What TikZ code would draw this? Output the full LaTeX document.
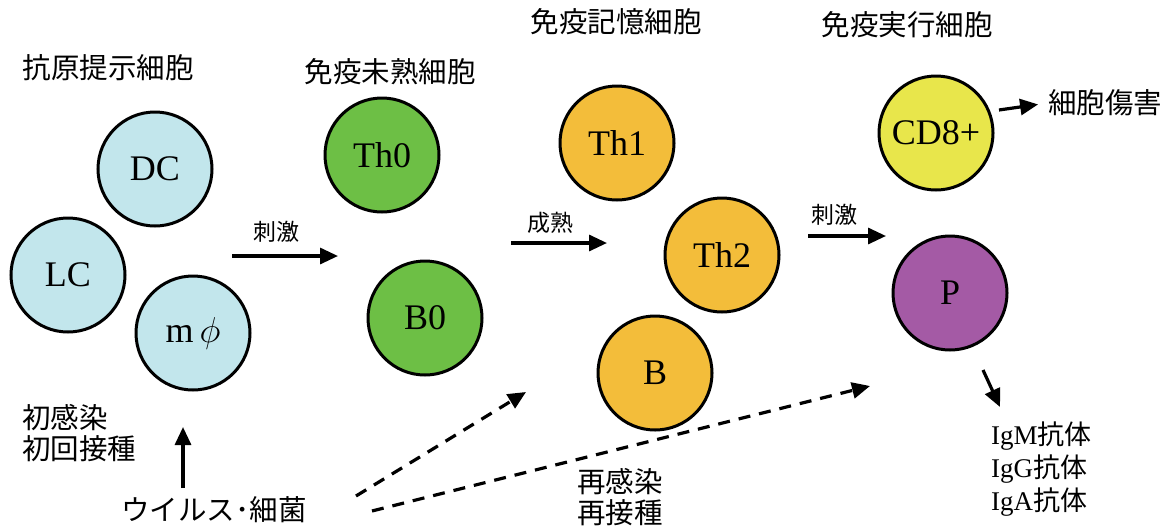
\RequirePackage{fix-cm}
\documentclass[tikz,border=0pt]{standalone}
\usepackage{fontspec}
\setmainfont{Liberation Serif}
\newfontfamily\jp{Noto Sans CJK JP}
\usetikzlibrary{arrows.meta}
\definecolor{cblue}{HTML}{C2E6EC}
\definecolor{cgreen}{HTML}{6DBF45}
\definecolor{corange}{HTML}{F3BD3A}
\definecolor{cyellow}{HTML}{E8E64B}
\definecolor{cpurple}{HTML}{A45AA5}
\tikzset{
  cell/.style={circle, draw=black, line width=3pt, minimum size=114pt, inner sep=0pt,
    font=\fontsize{36}{40}\selectfont},
  head/.style={font=\jp\fontsize{28.5}{33}\selectfont, inner sep=0pt},
  small/.style={font=\jp\fontsize{23}{27}\selectfont, inner sep=0pt},
  arr/.style={line width=3.2pt, -{Triangle[length=18pt,width=16pt]}},
  darr/.style={line width=3.2pt, dash pattern=on 12pt off 9pt, -{Triangle[length=18pt,width=16pt]}},
}
\begin{document}
\begin{tikzpicture}[x=1pt,y=-1pt]
\useasboundingbox (0,0) rectangle (1166,531);
% cells
\node[cell, fill=cblue] (dc) at (155,169) {DC};
\node[cell, fill=cblue] (lc) at (68,275) {LC};
\node[cell, fill=cblue] (mphi) at (193,333) {m\,{\fontsize{36}{40}\selectfont$\phi$}};
\node[cell, fill=cgreen] (th0) at (382,155) {Th0};
\node[cell, fill=cgreen] (b0) at (425,318) {B0};
\node[cell, fill=corange] (th1) at (617,143) {Th1};
\node[cell, fill=corange] (th2) at (722,255) {Th2};
\node[cell, fill=corange] (b) at (655,373) {B};
\node[cell, fill=cyellow] (cd8) at (936,133) {CD8+};
\node[cell, fill=cpurple] (p) at (950,293) {P};
% headings
\node[head] (h1) at (108,68) {抗原提示細胞};
\node[head] (h2) at (390,72) {免疫未熟細胞};
\node[head] (h3) at (616,22) {免疫記憶細胞};
\node[head] (h4) at (907,25) {免疫実行細胞};
\node[head, anchor=west] (cyto) at (1048,103) {細胞傷害};
% arrows with labels
\coordinate (a1s) at (232,256); \coordinate (a1e) at (338,256);
\draw[arr] (a1s) -- (a1e);
\node[small] (l1) at (276,232) {刺激};
\coordinate (a2s) at (511,243); \coordinate (a2e) at (607,243);
\draw[arr] (a2s) -- (a2e);
\node[small] (l2) at (550,223) {成熟};
\coordinate (a3s) at (808,236); \coordinate (a3e) at (886,236);
\draw[arr] (a3s) -- (a3e);
\node[small] (l3) at (834,215) {刺激};
% left-bottom labels
\node[head, anchor=west, align=left] (first) at (22,433) {初感染\\[-2pt]初回接種};
\node[head] (virus) at (214,510) {ウイルス･細菌};
\coordinate (upe) at (183,427);
\draw[arr] (183,488) -- (upe);
% dashed arrows
\coordinate (d1s) at (356,496); \coordinate (d1e) at (526,392);
\coordinate (d2s) at (372,511); \coordinate (d2e) at (870,386);
\draw[darr] (d1s) -- (d1e);
\draw[darr] (d2s) -- (d2e);
\node[head, align=center] (re) at (620,497) {再感染\\[-2pt]再接種};
% CD8 -> cytotoxicity
\draw[arr, shorten >=10pt] (999,110) -- (cyto.west);
% P -> antibodies
\node[anchor=north west, inner sep=0pt, align=left, font=\fontsize{27}{33}\selectfont] (ig) at (991,422)
  {IgM{\jp 抗体}\\IgG{\jp 抗体}\\IgA{\jp 抗体}};
\coordinate (pe) at (1000,407);
\draw[arr] (983,370) -- (pe);
\end{tikzpicture}
\end{document}
